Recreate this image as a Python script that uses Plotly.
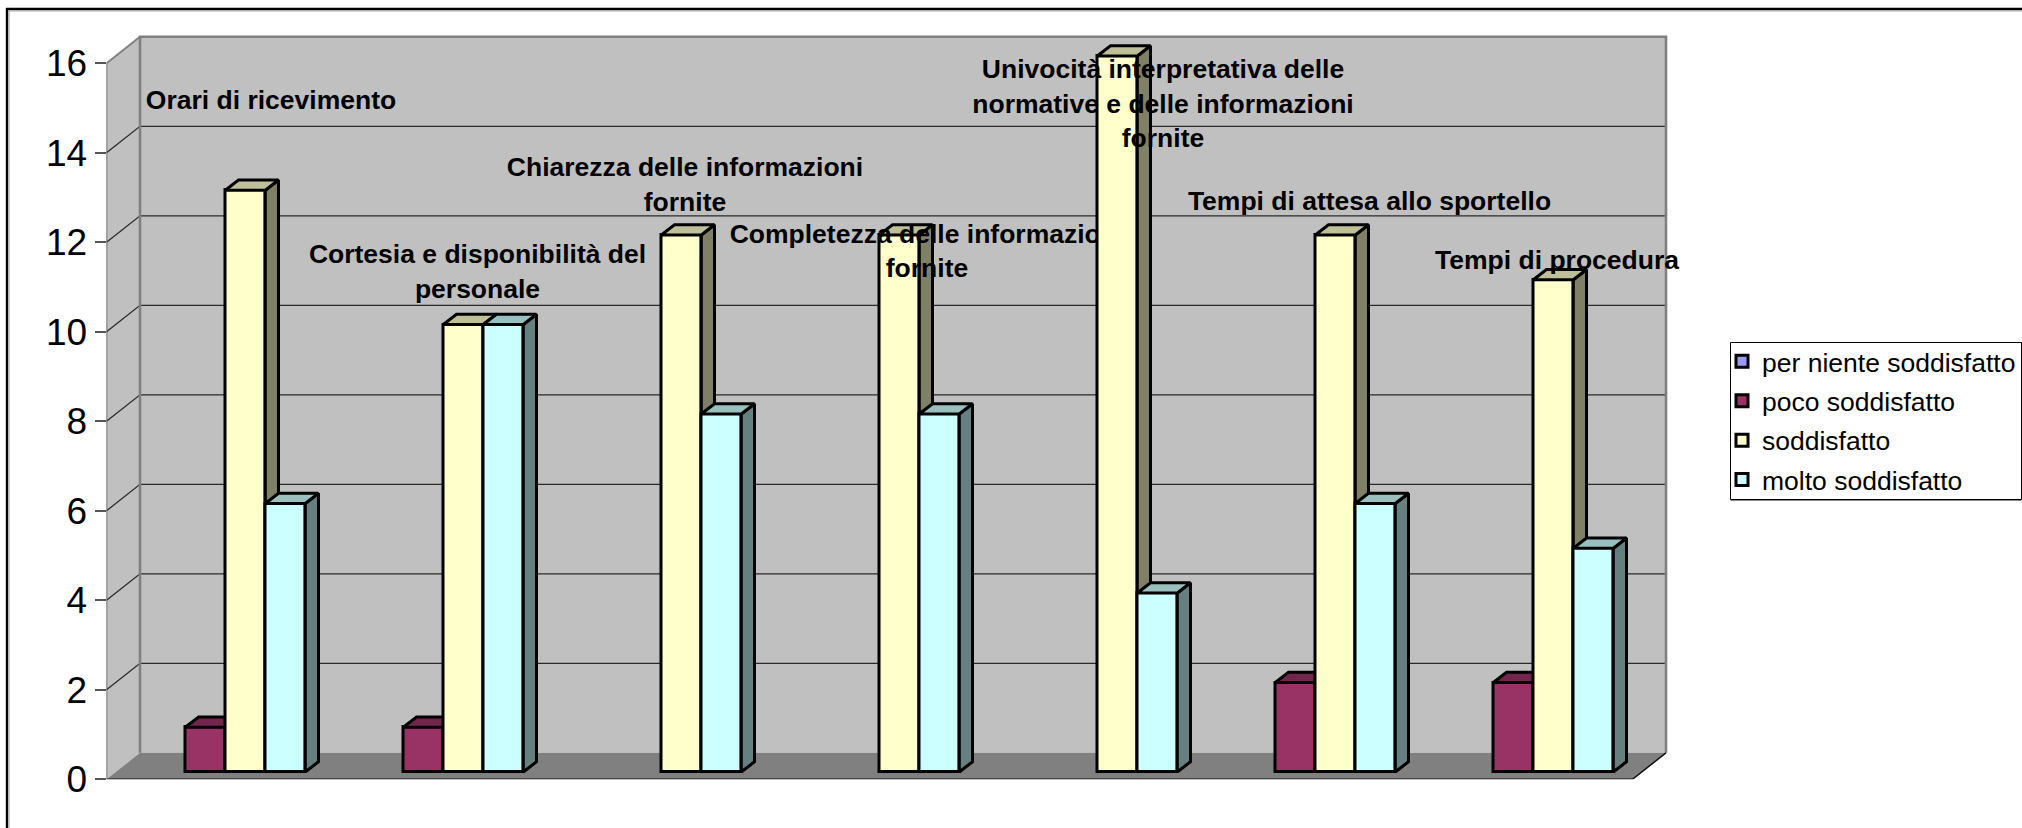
import plotly.graph_objects as go

# ---------- data ----------
categories = [
    "Orari di ricevimento",
    "Cortesia e disponibilità del<br>personale",
    "Chiarezza delle informazioni<br>fornite",
    "Completezza delle informazioni<br>fornite",
    "Univocità interpretativa delle<br>normative e delle informazioni<br>fornite",
    "Tempi di attesa allo sportello",
    "Tempi di procedura",
]
per_niente = [0, 0, 0, 0, 0, 0, 0]
poco = [1, 1, 0, 0, 0, 2, 2]
soddisfatto = [13, 10, 12, 12, 16, 12, 11]
molto = [6, 10, 8, 8, 4, 6, 5]
series_names = ["per niente soddisfatto", "poco soddisfatto", "soddisfatto", "molto soddisfatto"]
y_ticks = [0, 2, 4, 6, 8, 10, 12, 14, 16]

# ---------- styles / geometry ----------
W, H = 2022, 828
FONT = "Liberation Sans, Arial, sans-serif"
front_col = ["#9999FF", "#993366", "#FFFFCC", "#CCFFFF"]
top_col = ["#7373BF", "#73264D", "#BFBF99", "#99BFBF"]
side_col = ["#4D4D80", "#4D1A33", "#808066", "#668080"]
EDGE = 3

PX_L, PX_R = 106.5, 1700.0      # plot box, pixels
PX_B, PX_T = 779.3, 20.0
UX, UY = 218.0, 44.75           # pixels per data unit
X0, X1 = -0.5, 6.5              # category span on the front plane
WALL_DX, WALL_DY = 33.5 / UX, 26.5 / UY
LIFT_X, LIFT_Y = 9.8 / UX, 7.3 / UY
BAR_W = 40.0 / UX
BAR_DX, BAR_DY = 13.2 / UX, 10.3 / UY
YMAX = y_ticks[-1]


def dx(px):
    return X0 + (px - PX_L) / UX


def dy(px):
    return (PX_B - px) / UY


# label anchor per category (pixel position of the block centre)
label_px = [(271, 102.5), (477.5, 274), (685, 187), (927, 253.5), (1163, 106), (1369.5, 203.5), (1557, 262.5)]

fig = go.Figure()
series = [per_niente, poco, soddisfatto, molto]

for i, cat in enumerate(categories):
    centre = i + LIFT_X
    for j, vals in enumerate(series):
        v = vals[i]
        z = 100 * i + 10 * j + 10
        left = centre - 2 * BAR_W + j * BAR_W
        right = left + BAR_W
        top = LIFT_Y + v
        if v > 0:
            fig.add_trace(go.Scatter(
                x=[right, right + BAR_DX, right + BAR_DX, right, right],
                y=[top, top + BAR_DY, LIFT_Y + BAR_DY, LIFT_Y, top],
                mode="lines", fill="toself", fillcolor=side_col[j],
                line=dict(color="black", width=EDGE), showlegend=False,
                hoverinfo="skip", zorder=z))
            fig.add_trace(go.Scatter(
                x=[left, left + BAR_DX, right + BAR_DX, right, left],
                y=[top, top + BAR_DY, top + BAR_DY, top, top],
                mode="lines", fill="toself", fillcolor=top_col[j],
                line=dict(color="black", width=EDGE), showlegend=False,
                hoverinfo="skip", zorder=z))
        fig.add_trace(go.Bar(
            x=[left], y=[v if v > 0 else None], base=LIFT_Y, width=[BAR_W], offset=0,
            name=series_names[j], showlegend=(i == 0), legendgroup=series_names[j],
            marker=dict(color=front_col[j], line=dict(color="black", width=EDGE)),
            zorder=z))
    lx, ly = label_px[i]
    fig.add_trace(go.Scatter(
        x=[dx(lx)], y=[dy(ly)], mode="text", text=[cat],
        textposition="middle center",
        textfont=dict(family=FONT, size=26.5, color="black", weight="bold"),
        showlegend=False, hoverinfo="skip", cliponaxis=False,
        zorder=100 * i + 60))

shapes = []


def poly(points, **kw):
    path = "M" + " L".join(f"{x},{y}" for x, y in points)
    shapes.append(dict(type="path", path=path + (" Z" if kw.get("fillcolor") else ""),
                       xref="x", yref="y", layer="below", **kw))


wl = dict(width=0)
# walls and floor
poly([(X0, 0), (X0, YMAX), (X0 + WALL_DX, YMAX + WALL_DY), (X0 + WALL_DX, WALL_DY)],
     fillcolor="#C0C0C0", line=wl)
poly([(X0 + WALL_DX, WALL_DY), (X0 + WALL_DX, YMAX + WALL_DY), (X1 + WALL_DX, YMAX + WALL_DY), (X1 + WALL_DX, WALL_DY)],
     fillcolor="#C0C0C0", line=wl)
poly([(X0, 0), (X1, 0), (X1 + WALL_DX, WALL_DY), (X0 + WALL_DX, WALL_DY)],
     fillcolor="#808080", line=wl)
# gridlines
for t in y_ticks[1:-1]:
    poly([(X0, t), (X0 + WALL_DX, t + WALL_DY), (X1 + WALL_DX, t + WALL_DY)],
         line=dict(color="#2A2A2A", width=1.3))
# wall outlines
poly([(X0 + WALL_DX, WALL_DY), (X0 + WALL_DX, YMAX + WALL_DY), (X1 + WALL_DX, YMAX + WALL_DY), (X1 + WALL_DX, WALL_DY)],
     line=dict(color="#808080", width=2.6))
poly([(X0, YMAX), (X0 + WALL_DX, YMAX + WALL_DY)], line=dict(color="#808080", width=2))
# front edges
poly([(X0, 0), (X1, 0), (X1 + WALL_DX, WALL_DY)], line=dict(color="#111111", width=1.5))
poly([(X0, 0), (X0, YMAX)], line=dict(color="#555555", width=1.5))


def paper_line(x0, y0, x1, y1, color, width):
    shapes.append(dict(type="line", xref="paper", yref="paper", layer="below",
                       x0=x0 / W, x1=x1 / W, y0=1 - y0 / H, y1=1 - y1 / H,
                       line=dict(color=color, width=width)))


# outer frame, open on the right and the bottom
paper_line(7, 8, 7, H, "black", 2.4)
paper_line(6, 9, W, 9, "black", 2.4)
paper_line(9, 10.8, 9, H, "#AAAAAA", 1.2)
paper_line(8, 10.8, W, 10.8, "#AAAAAA", 1.2)

# legend frame
LEG_L, LEG_T, LEG_R, LEG_B = 1730.5, 342.5, 2021.5, 499.5
shapes.append(dict(type="rect", xref="paper", yref="paper", layer="below",
                   x0=LEG_L / W, x1=LEG_R / W, y0=1 - LEG_T / H, y1=1 - LEG_B / H,
                   fillcolor="white", line=dict(color="black", width=1)))
paper_line(LEG_L, LEG_B + 1, LEG_R, LEG_B + 1, "#888888", 1.2)

fig.update_layout(
    width=W, height=H,
    margin=dict(l=0, r=0, t=0, b=0, pad=0, autoexpand=False),
    paper_bgcolor="white", plot_bgcolor="white",
    barmode="overlay", bargap=0,
    shapes=shapes,
    font=dict(family=FONT, color="black"),
    xaxis=dict(domain=[PX_L / W, PX_R / W], range=[X0, X0 + (PX_R - PX_L) / UX],
               visible=False, fixedrange=True, automargin=False),
    yaxis=dict(domain=[1 - PX_B / H, 1 - PX_T / H], range=[0, (PX_B - PX_T) / UY],
               tickmode="array", tickvals=y_ticks, ticktext=[str(t) for t in y_ticks],
               ticks="outside", ticklen=11, tickwidth=1.5, tickcolor="#555555",
               tickfont=dict(family=FONT, size=37, color="black"),
               showgrid=False, zeroline=False, showline=False, fixedrange=True, automargin=False),
    legend=dict(x=1722 / W, xanchor="left", y=1 - 337.5 / H, yanchor="top",
                bgcolor="rgba(0,0,0,0)", borderwidth=0,
                font=dict(family=FONT, size=26.5, color="black"),
                itemwidth=30, tracegroupgap=2, itemclick=False, itemdoubleclick=False),
    showlegend=True,
)

fig.write_html("out.html", config={"displayModeBar": False},
               post_script="document.body.style.margin='0';document.body.style.overflow='hidden';")
